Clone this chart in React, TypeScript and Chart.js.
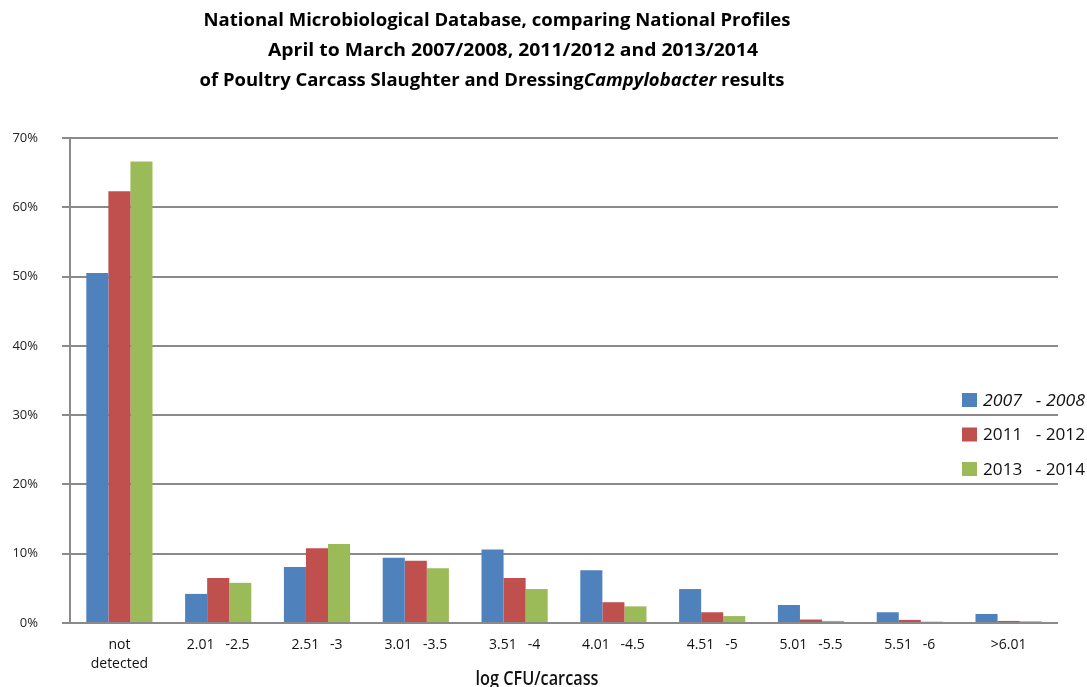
import React, { useEffect, useRef } from "react";
import { Chart, registerables } from "chart.js";

Chart.register(...registerables);

const categories: (string | string[])[] = [
  ["not", "detected"],
  "2.01   -2.5",
  "2.51   -3",
  "3.01   -3.5",
  "3.51   -4",
  "4.01   -4.5",
  "4.51   -5",
  "5.01   -5.5",
  "5.51   -6",
  ">6.01",
];

const seriesLabels = ["2007   - 2008", "2011   - 2012", "2013   - 2014"];
const seriesColors = ["#4F81BD", "#C0504D", "#9BBB59"];

const values2007 = [50.5, 4.2, 8.1, 9.4, 10.6, 7.6, 4.9, 2.6, 1.55, 1.3];
const values2011 = [62.3, 6.5, 10.8, 9.0, 6.5, 3.0, 1.55, 0.5, 0.45, 0.3];
const values2013 = [66.6, 5.8, 11.4, 7.9, 4.9, 2.4, 1.0, 0.3, 0.2, 0.25];

const yTicks = [0, 10, 20, 30, 40, 50, 60, 70];

const titleLine1 = "National Microbiological Database, comparing National Profiles";
const titleLine2 = "April to March 2007/2008, 2011/2012 and 2013/2014";
const titleLine3a = "of Poultry Carcass Slaughter and Dressing";
const titleLine3b = "Campylobacter";
const titleLine3c = " results";
const xAxisTitle = "log CFU/carcass";

const FONT = '"Open Sans", "Liberation Sans", sans-serif';

type Run = { text: string; font: string };

function drawRuns(ctx: CanvasRenderingContext2D, runs: Run[], cx: number, y: number, targetW: number) {
  let total = 0;
  const widths = runs.map((r) => {
    ctx.font = r.font;
    const w = ctx.measureText(r.text).width;
    total += w;
    return w;
  });
  const sx = targetW / total;
  ctx.save();
  ctx.translate(cx - targetW / 2, y);
  ctx.scale(sx, 1);
  let x = 0;
  runs.forEach((r, i) => {
    ctx.font = r.font;
    ctx.fillText(r.text, x, 0);
    x += widths[i];
  });
  ctx.restore();
}

const overlayPlugin = {
  id: "overlay",
  afterDraw(chart: any) {
    const ctx: CanvasRenderingContext2D = chart.ctx;
    const a = chart.chartArea;
    ctx.save();
    ctx.fillStyle = "#000";
    ctx.textAlign = "left";
    ctx.textBaseline = "middle";
    const tb = `bold 17px ${FONT}`;
    const tbi = `italic bold 17px ${FONT}`;
    drawRuns(ctx, [{ text: titleLine1, font: tb }], 497, 21, 587);
    drawRuns(ctx, [{ text: titleLine2, font: tb }], 513, 51, 490);
    drawRuns(
      ctx,
      [
        { text: titleLine3a, font: tb },
        { text: titleLine3b, font: tbi },
        { text: titleLine3c, font: tb },
      ],
      492,
      81,
      585
    );

    // x-axis title
    ctx.fillStyle = "#111";
    ctx.textBaseline = "alphabetic";
    drawRuns(ctx, [{ text: xAxisTitle, font: `600 19px ${FONT}` }], 537, 685, 123);

    // legend
    const boxX = a.right - 96;
    const startY = 400;
    const step = 34.5;
    chart.data.datasets.forEach((ds: any, i: number) => {
      const cy = startY + i * step;
      ctx.fillStyle = ds.backgroundColor;
      ctx.fillRect(boxX, cy - 7, 15, 14);
      ctx.fillStyle = "#111";
      ctx.textBaseline = "middle";
      const f = i === 0 ? `italic 17px ${FONT}` : `17px ${FONT}`;
      ctx.font = f;
      const w = ctx.measureText(ds.label).width;
      const target = 102;
      ctx.save();
      ctx.translate(boxX + 21, cy + 1);
      ctx.scale(target / w, 1);
      ctx.fillText(ds.label, 0, 0);
      ctx.restore();
    });
    ctx.restore();
  },
};

export default function App() {
  const ref = useRef<HTMLCanvasElement | null>(null);
  useEffect(() => {
    document.body.style.margin = "0";
    const canvas = ref.current;
    if (!canvas) return;
    const chart = new Chart(canvas, {
      type: "bar",
      data: {
        labels: categories,
        datasets: [values2007, values2011, values2013].map((d, i) => ({
          label: seriesLabels[i],
          data: d,
          backgroundColor: seriesColors[i],
          borderWidth: 0,
          categoryPercentage: 0.67,
          barPercentage: 1.0,
        })),
      },
      options: {
        responsive: false,
        animation: false,
        devicePixelRatio: 1,
        layout: { padding: { top: 138, right: 29, left: 0, bottom: 0 } },
        plugins: {
          legend: { display: false },
          title: { display: false },
          tooltip: { enabled: false },
        },
        scales: {
          x: {
            grid: { display: false, drawTicks: false },
            border: { display: false },
            ticks: {
              color: "#111",
              font: { family: FONT, size: 14, lineHeight: 1.4 },
              padding: 12,
              maxRotation: 0,
              autoSkip: false,
            },
            afterFit(scale: any) {
              scale.height = 64;
            },
          },
          y: {
            min: 0,
            max: 70,
            afterBuildTicks(scale: any) {
              scale.ticks = yTicks.map((v) => ({ value: v }));
            },
            grid: {
              color: "#8a8a8a",
              lineWidth: 2,
              tickLength: 8,
              drawTicks: true,
            },
            border: { display: true, color: "#8a8a8a", width: 2 },
            ticks: {
              color: "#222",
              font: { family: FONT, size: 13 },
              padding: 24,
              callback: (v: any) => v + "%",
            },
            afterFit(scale: any) {
              scale.width = 70;
            },
          },
        },
      },
      plugins: [overlayPlugin],
    });
    return () => chart.destroy();
  }, []);
  return <canvas ref={ref} width={1087} height={687} style={{ display: "block" }} />;
}
